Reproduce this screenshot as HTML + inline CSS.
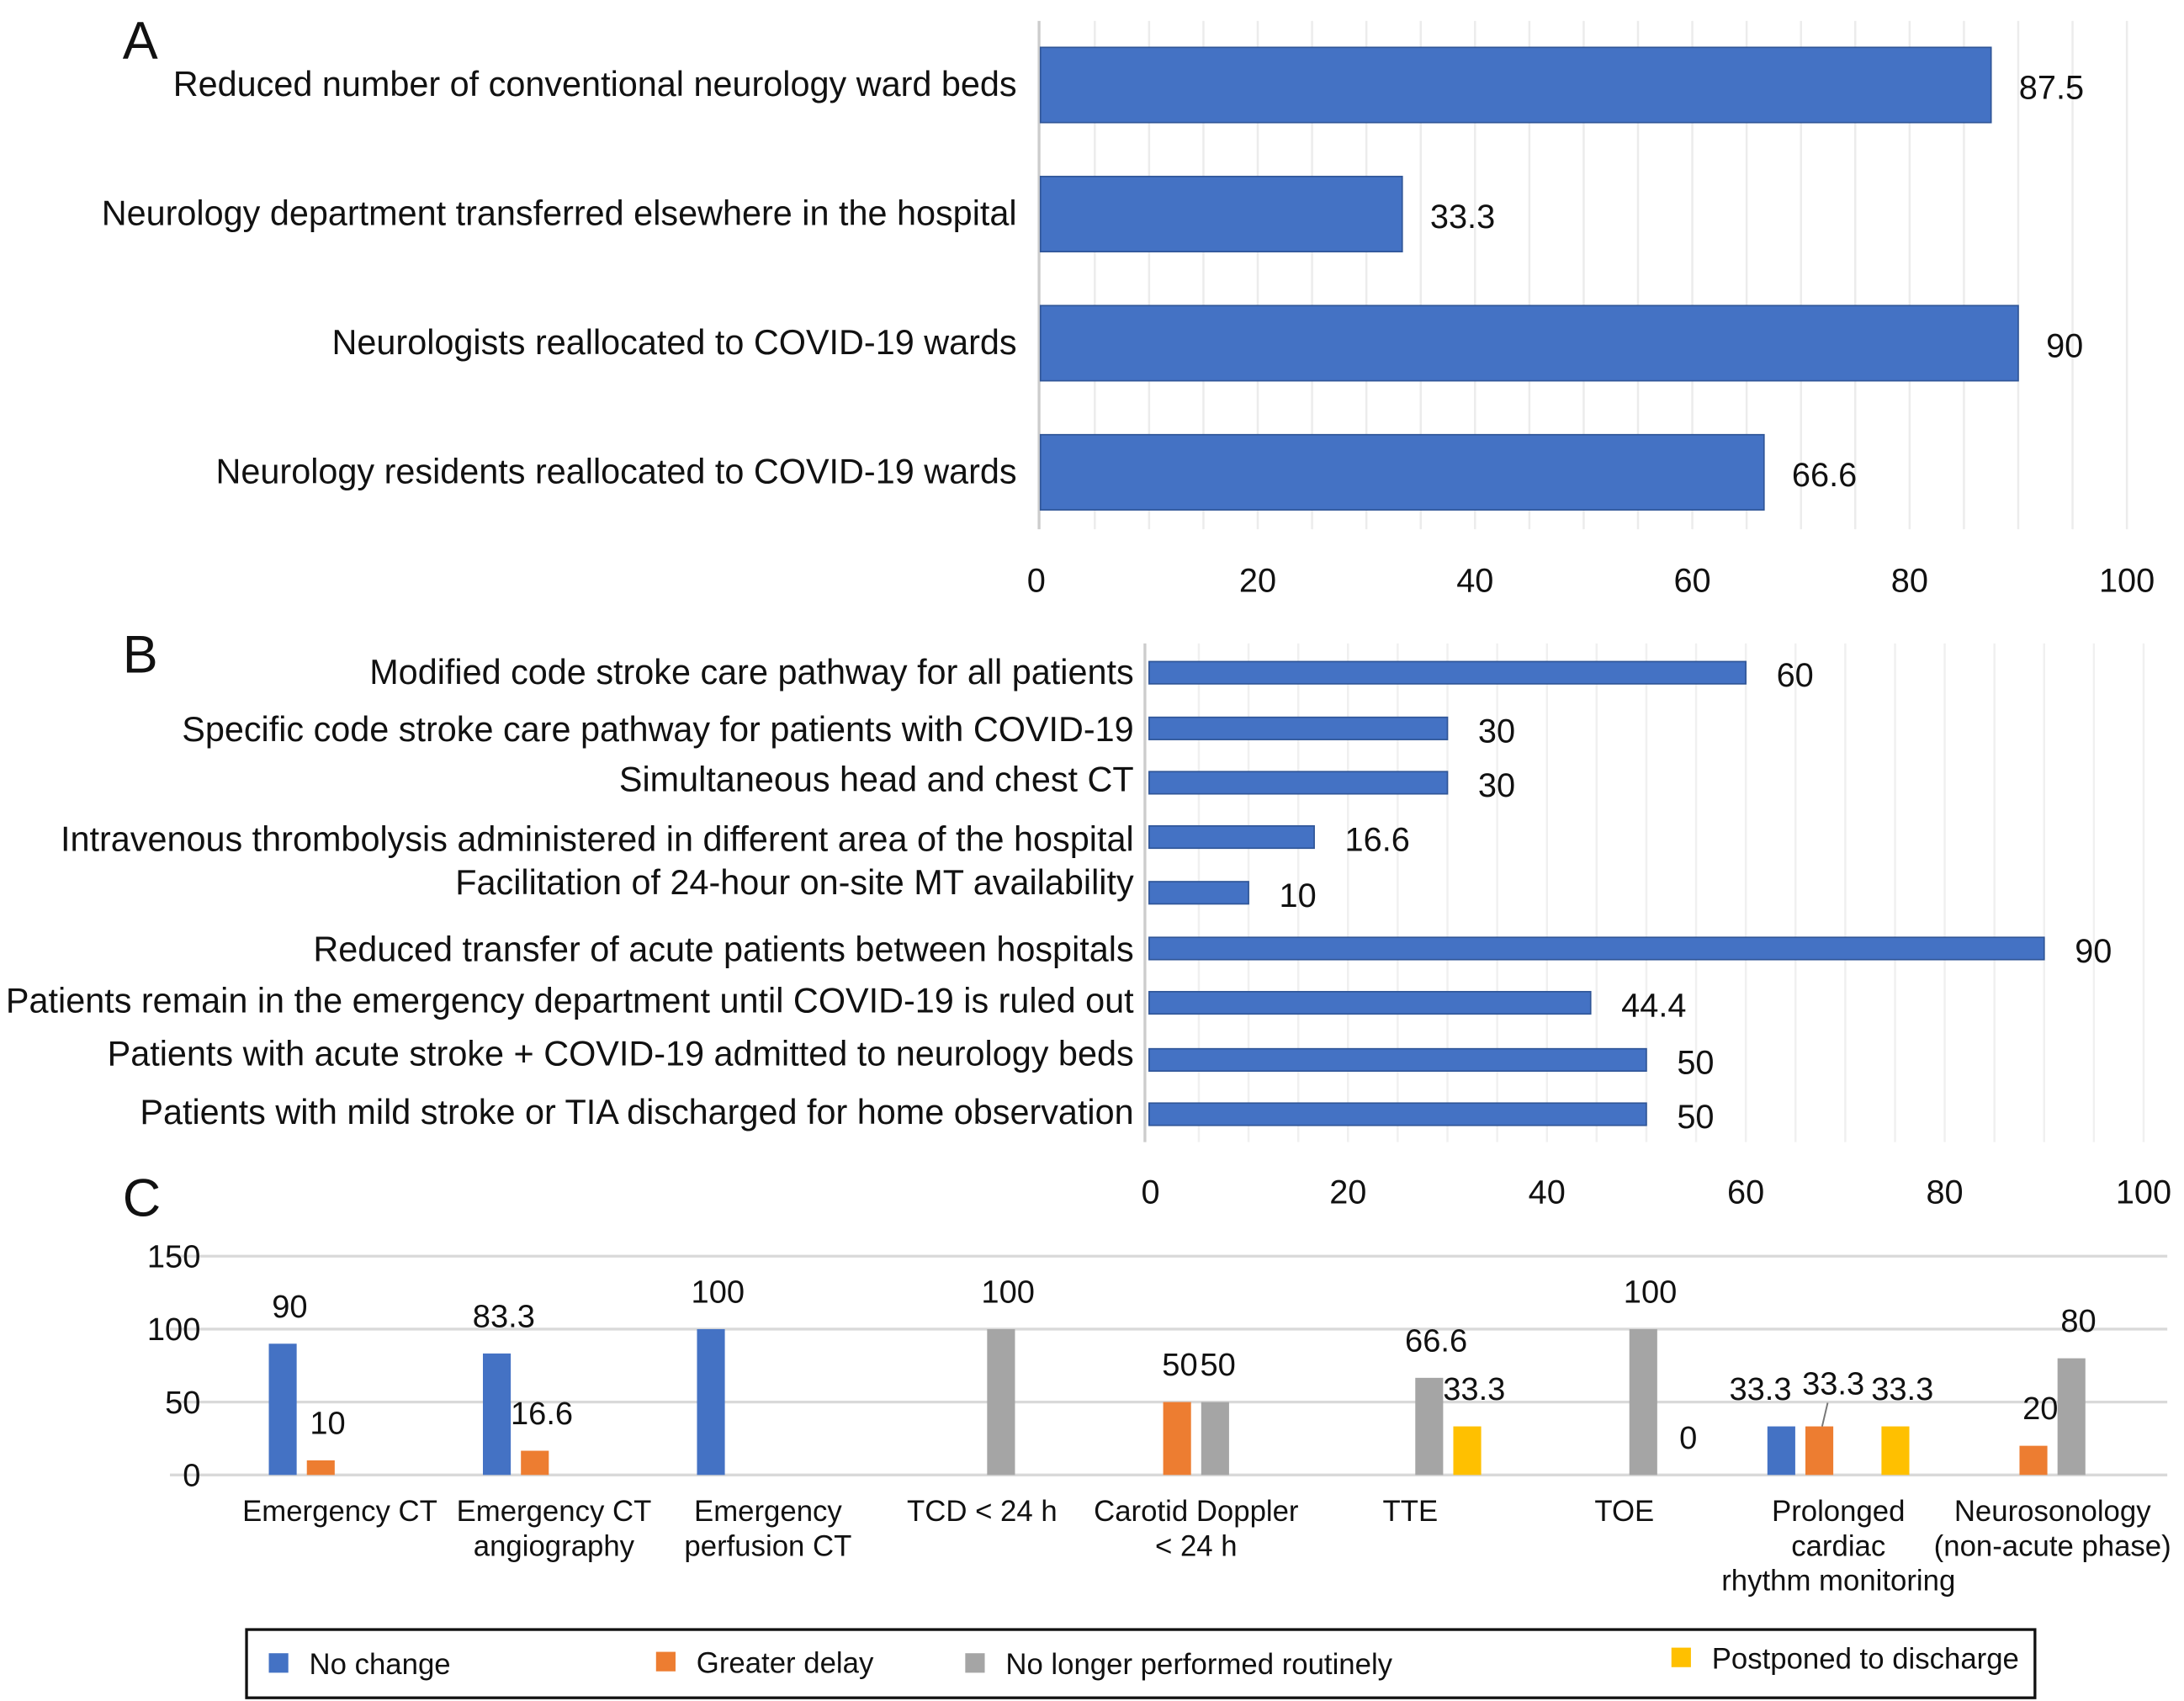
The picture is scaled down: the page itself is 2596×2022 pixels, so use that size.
<!DOCTYPE html>
<html><head><meta charset="utf-8"><style>
html,body{margin:0;padding:0;background:#fff}
svg{display:block}
text{font-family:"Liberation Sans",Arial,sans-serif;fill:#111}
</style></head><body>
<svg id="chart" width="2596" height="2022" viewBox="0 0 1568 1221.3" xmlns="http://www.w3.org/2000/svg">
<g id="A"></g>
<g id="B"></g>
<g id="C"></g>
</svg>
<script>
const aCats=["Reduced number of conventional neurology ward beds","Neurology department transferred elsewhere in the hospital","Neurologists reallocated to COVID-19 wards","Neurology residents reallocated to COVID-19 wards"];
const aVals=[87.5,33.3,90,66.6];
const aLabels=["87.5","33.3","90","66.6"];
const bCats=["Modified code stroke care pathway for all patients","Specific code stroke care pathway for patients with COVID-19","Simultaneous head and chest CT","Intravenous thrombolysis administered in different area of the hospital","Facilitation of 24-hour on-site MT availability","Reduced transfer of acute patients between hospitals","Patients remain in the emergency department until COVID-19 is ruled out","Patients with acute stroke + COVID-19 admitted to neurology beds","Patients with mild stroke or TIA discharged for home observation"];
const bVals=[60,30,30,16.6,10,90,44.4,50,50];
const bLabels=["60","30","30","16.6","10","90","44.4","50","50"];
const xTicks=[0,20,40,60,80,100];
const cCats=[["Emergency CT"],["Emergency CT","angiography"],["Emergency","perfusion CT"],["TCD < 24 h"],["Carotid Doppler","< 24 h"],["TTE"],["TOE"],["Prolonged","cardiac","rhythm monitoring"],["Neurosonology","(non-acute phase)"]];
const cSeries=["No change","Greater delay","No longer performed routinely","Postponed to discharge"];
const cNoChange=[90,83.3,100,null,null,null,null,33.3,null];
const cDelay=[10,16.6,null,null,50,null,null,33.3,20];
const cNoLonger=[null,null,null,100,50,66.6,100,null,80];
const cPostponed=[null,null,null,null,null,33.3,0,33.3,null];
const yTicks=[0,50,100,150];
const colors=["#4472C4","#ED7D31","#A5A5A5","#FFC000"];
const NS="http://www.w3.org/2000/svg";
function mk(parent,tag,attrs,txt){const e=document.createElementNS(NS,tag);for(const k in attrs)e.setAttribute(k,attrs[k]);if(txt!==undefined)e.textContent=txt;parent.appendChild(e);return e;}

// Panel A
const A=document.getElementById('A');
const ax=v=>747+v*7.8;
let t=mk(A,'text',{x:88,y:42,'font-size':38},'A');

for(let v=5;v<=100;v+=5){const l=mk(A,'line',{x1:ax(v),x2:ax(v),y1:15,y2:380,stroke:'#ececec','stroke-width':1.5});}
let l=mk(A,'line',{x1:746,x2:746,y1:15,y2:380,stroke:'#ccc','stroke-width':2});
aCats.forEach((c,i)=>{const cy=61+i*92.7;
 const r=mk(A,'rect',{x:ax(0),y:cy-27,width:ax(aVals[i])-ax(0),height:54,fill:'#4472C4',stroke:'#2F5597','stroke-width':1});
 
 const tl=mk(A,'text',{x:730,y:cy+8,'font-size':25,'text-anchor':'end'},c);
 
 const vl=mk(A,'text',{x:ax(aVals[i])+20,y:cy+10,'font-size':24},aLabels[i]);
 });
xTicks.forEach(v=>{const e=mk(A,'text',{x:ax(v)-(v==0?3:0),y:425,'font-size':24,'text-anchor':'middle'},String(v));});

// Panel B
const B=document.getElementById('B');
const bx=v=>825+v*7.14;
t=mk(B,'text',{x:88,y:483,'font-size':38},'B');

for(let v=5;v<=100;v+=5){const g=mk(B,'line',{x1:bx(v),x2:bx(v),y1:462,y2:820,stroke:'#f0f0f0','stroke-width':1.5});}
l=mk(B,'line',{x1:822,x2:822,y1:462,y2:820,stroke:'#ccc','stroke-width':2});
const bY=[483,523,562,601,641,681,720,761,800];
const bTextY=[483,524,560,603,634,682,719,757,799];
bCats.forEach((c,i)=>{const cy=bY[i];
 const r=mk(B,'rect',{x:bx(0),y:cy-8,width:bx(bVals[i])-bx(0),height:16,fill:'#4472C4',stroke:'#2F5597','stroke-width':1});
 
 const tl=mk(B,'text',{x:814,y:bTextY[i]+8,'font-size':25,'text-anchor':'end'},c);
 
 const vl=mk(B,'text',{x:bx(bVals[i])+22,y:cy+10,'font-size':24},bLabels[i]);
 });
xTicks.forEach(v=>{const e=mk(B,'text',{x:bx(v)+(v==0?1:0),y:864,'font-size':24,'text-anchor':'middle'},String(v));});

// Panel C
const C=document.getElementById('C');
const cy=v=>1059-v*1.047;
t=mk(C,'text',{x:88,y:873,'font-size':38},'C');

yTicks.forEach(v=>{const g=mk(C,'line',{x1:122,x2:1556,y1:cy(v),y2:cy(v),stroke:'#d9d9d9','stroke-width':2});
 const e=mk(C,'text',{x:144,y:cy(v)+8,'font-size':23,'text-anchor':'end'},String(v));});
const series=[cNoChange,cDelay,cNoLonger,cPostponed];
const gx=i=>203+i*153.7;
cCats.forEach((c,i)=>{
 series.forEach((s,k)=>{const v=s[i];if(v===null)return;
  const x=gx(i)+k*27.3;
  if(v>0){const r=mk(C,'rect',{x:x-10,y:cy(v),width:20,height:cy(0)-cy(v),fill:colors[k]});
   }
  let lx=x+5,lyy=cy(v)-19;
  if(i===7&&k===0)lx=x-15;
  if(i===7&&k===1){lyy=cy(v)-23;lx=x+10;
   const ld=mk(C,'line',{x1:x+6,y1:lyy+6,x2:x+2,y2:cy(v),stroke:'#777','stroke-width':1.2});
   }
  if(i===4&&k===1)lx=x+2;
  if(i===4&&k===2)lx=x+2;
  const vl=mk(C,'text',{x:lx,y:lyy,'font-size':23,'text-anchor':'middle'},String(v));
  });
 const center=gx(i)+41;
 c.forEach((line,j)=>{const e=mk(C,'text',{x:center,y:1092+j*25,'font-size':21,'text-anchor':'middle'},line);});
});
// legend
const lg=mk(C,'rect',{x:177,y:1170,width:1284,height:49,fill:'#fff',stroke:'#111','stroke-width':2});

const lx=[193,471,693,1200],ly=[1194,1193,1194,1190];
cSeries.forEach((s,k)=>{const sq=mk(C,'rect',{x:lx[k],y:ly[k]-7,width:14,height:14,fill:colors[k]});
 
 const e=mk(C,'text',{x:lx[k]+29,y:ly[k]+8,'font-size':21},s);});
</script>
</body></html>
